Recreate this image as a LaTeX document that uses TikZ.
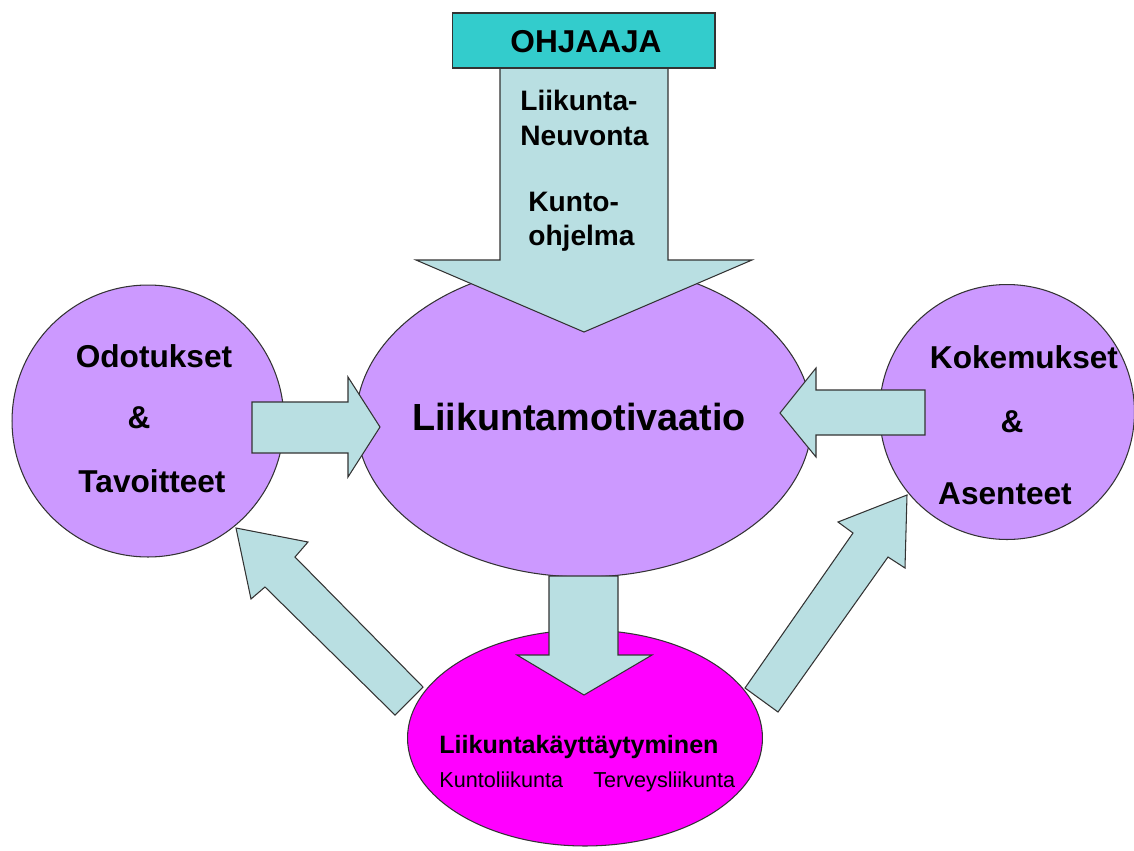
\documentclass[tikz,border=0pt]{standalone}
\usepackage{fontspec}
\setmainfont{Liberation Sans}
\usetikzlibrary{shapes.geometric}
\definecolor{lila}{HTML}{CC99FF}
\definecolor{magent}{HTML}{FF00FF}
\definecolor{tealbox}{HTML}{33CCCC}
\definecolor{arrowfill}{HTML}{B9DFE2}
\definecolor{edge}{HTML}{333333}
\tikzset{
  blob/.style={draw=edge, line width=0.6pt, fill=lila, inner sep=0pt},
  blockarrow/.style={draw=edge, line width=0.6pt, fill=arrowfill, line join=miter},
  boldtxt/.style={font=\bfseries\fontsize{18}{20}\selectfont, inner sep=0pt},
  armtxt/.style={font=\bfseries\fontsize{16}{18}\selectfont, inner sep=0pt, anchor=base west},
}
\begin{document}
\begin{tikzpicture}[x=0.02cm, y=-0.02cm]
\useasboundingbox (0,0) rectangle (1134,850);
% circles and ellipses
\node[blob, ellipse, minimum width=9.12cm, minimum height=6.28cm] (center) at (584,420) {};
\node[blob, circle, minimum size=5.44cm] (left) at (148,421) {};
\node[blob, circle, minimum size=5.10cm] (right) at (1007,412) {};
\node[blob, ellipse, fill=magent, minimum width=7.10cm, minimum height=4.32cm] (bottom) at (585,738) {};
% big down arrow
\draw[blockarrow] (500,66) -- (668,66) -- (668,260) -- (752,260) -- (584,332)
  -- (416,260) -- (500,260) -- cycle;
\node[draw=edge, line width=0.6pt, fill=tealbox, minimum width=5.26cm, minimum height=1.10cm, inner sep=0pt] (ohjaaja) at (583.5,40.5) {};
\node[boldtxt, anchor=base] at (586,52) {OHJAAJA};
\node[armtxt] (t1) at (520,110) {Liikunta-};
\node[armtxt] (t2) at (520,145) {Neuvonta};
\node[armtxt] (t3) at (528,211) {Kunto-};
\node[armtxt] (t4) at (528,245) {ohjelma};
% left arrow
\draw[blockarrow] (252,402) -- (348,402) -- (348,377) -- (380,427) -- (348,477)
  -- (348,453) -- (252,453) -- cycle;
% right arrow
\draw[blockarrow] (925,390) -- (816,390) -- (816,368) -- (780,413) -- (816,457)
  -- (816,435) -- (925,435) -- cycle;
% bottom arrow
\draw[blockarrow] (549,576) -- (618,576) -- (618,655) -- (652,655) -- (584,695)
  -- (517,655) -- (549,655) -- cycle;
% left diagonal arrow
\draw[blockarrow] (236,528) -- (308,542) -- (295,557) -- (423,687) -- (395,715)
  -- (265,587) -- (251,599) -- cycle;
% right diagonal arrow
\draw[blockarrow] (907,495) -- (838,522) -- (853,533) -- (745,688) -- (778,712)
  -- (888,557) -- (905,568) -- cycle;
% texts
\node[inner sep=0pt, anchor=base, font=\bfseries\fontsize{21.5}{24}\selectfont] (ctxt) at (579,430) {Liikuntamotivaatio};
\node[boldtxt, anchor=base] (l1) at (154,367) {Odotukset};
\node[boldtxt, anchor=base] (l2) at (139,428) {\&};
\node[boldtxt, anchor=base] (l3) at (152,492) {Tavoitteet};
\node[boldtxt, anchor=base] (r1) at (1024,368) {Kokemukset};
\node[boldtxt, anchor=base] (r2) at (1012,432) {\&};
\node[boldtxt, anchor=base] (r3) at (1005,504) {Asenteet};
\node[inner sep=0pt, anchor=base west, font=\bfseries\fontsize{14.3}{16}\selectfont] (b1) at (439,753) {Liikuntakäyttäytyminen};
\node[inner sep=0pt, anchor=base west, font=\fontsize{12.3}{14}\selectfont] (b2) at (439,787) {Kuntoliikunta};
\node[inner sep=0pt, anchor=base west, font=\fontsize{12.3}{14}\selectfont] (b3) at (593,787) {Terveysliikunta};
\end{tikzpicture}
\end{document}
